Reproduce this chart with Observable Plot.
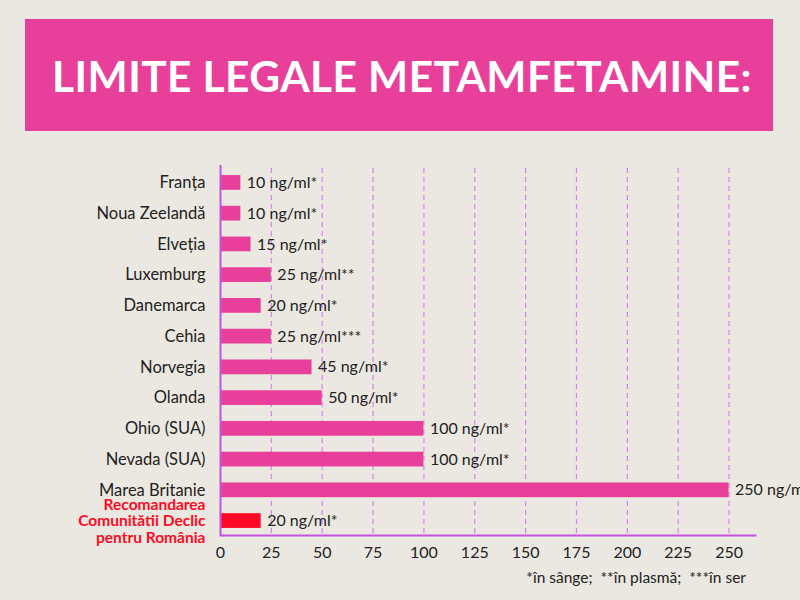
<!DOCTYPE html>
<html>
<head>
<meta charset="utf-8">
<script src="https://cdn.jsdelivr.net/npm/d3@7"></script>
<script src="https://cdn.jsdelivr.net/npm/@observablehq/plot@0.6"></script>
<style>
  html, body { margin: 0; padding: 0; }
  body { width: 800px; height: 600px; background: #ebe8e1; position: relative; overflow: hidden; font-family: Lato, "Noto Sans", sans-serif; }
  #banner {
    position: absolute; left: 25px; top: 19px; width: 748px; height: 112px; box-sizing: border-box; padding-left: 6px;
    background: #e8409a; color: #fff; display: flex; align-items: center; justify-content: center;
    font-family: Lato, sans-serif; font-weight: 700; font-size: 42.5px; letter-spacing: 0.4px;
  }
  #chart { position: absolute; left: 0; top: 0; }
  #note { position: absolute; right: 54px; top: 568px; font-size: 15.5px; color: #222; white-space: pre; }
</style>
</head>
<body>
<div id="banner">LIMITE LEGALE METAMFETAMINE:</div>
<div id="chart"></div>
<div id="note">*în sânge;  **în plasmă;  ***în ser</div>
<script>
// Legal limits for methamphetamine (ng/ml), by jurisdiction
const places = [
  "Franța", "Noua Zeelandă", "Elveția", "Luxemburg", "Danemarca", "Cehia",
  "Norvegia", "Olanda", "Ohio (SUA)", "Nevada (SUA)", "Marea Britanie",
  "Recomandarea\nComunitătii Declic\npentru România"
];
const limits = [10, 10, 15, 25, 20, 25, 45, 50, 100, 100, 250, 20];
// * blood, ** plasma, *** serum
const marks = ["*", "*", "*", "**", "*", "***", "*", "*", "*", "*", "", "*"];
const xTicks = [0, 25, 50, 75, 100, 125, 150, 175, 200, 225, 250];

const proposal = places[places.length - 1];
const rows = places.map((p, i) => ({
  place: p,
  value: limits[i],
  label: `${limits[i]} ng/ml${marks[i]}`,
  own: p === proposal
}));

const pink = "#e8409a", red = "#ff0a26", axisColor = "#c653dc", gridColor = "#da86ea";

const chart = Plot.plot({
  width: 800,
  height: 600,
  marginLeft: 220,
  marginRight: 45,
  marginTop: 168,
  marginBottom: 65,
  style: { background: "transparent", fontFamily: "Lato, 'Noto Sans', sans-serif", fontSize: "16px", color: "#222", overflow: "hidden" },
  x: { domain: [0, 263], ticks: xTicks, label: null },
  y: { domain: places, paddingInner: 0.52, paddingOuter: 0.23, round: false, axis: null, label: null },
  marks: [
    Plot.ruleX(xTicks.filter(t => t > 0), { stroke: gridColor, strokeWidth: 1.2, strokeDasharray: "5,4" }),
    Plot.barX(rows, { x: "value", y: "place", fill: d => d.own ? red : pink }),
    Plot.text(rows, { x: "value", y: "place", text: "label", textAnchor: "start", dx: 6, fill: "#222", fontSize: 16 }),
    // country names
    Plot.text(rows.filter(d => !d.own), {
      x: 0, y: "place", text: "place", textAnchor: "end", dx: -15, fill: "#222", fontSize: 16.5
    }),
    // the recommendation, highlighted in red
    Plot.text(rows.filter(d => d.own), {
      x: 0, y: "place", text: "place", textAnchor: "end", dx: -15, fill: red,
      fontWeight: 700, fontSize: 15.5, lineHeight: 1.08
    }),
    Plot.ruleX([0], { stroke: axisColor, strokeWidth: 2, insetTop: -3 }),
    Plot.axisX({ ticks: xTicks, tickSize: 0, tickPadding: 11, fontSize: 16, color: "#222", label: null }),
    Plot.frame({ anchor: "bottom", stroke: axisColor, strokeWidth: 2 })
  ]
});
document.getElementById("chart").appendChild(chart);
</script>
</body>
</html>
